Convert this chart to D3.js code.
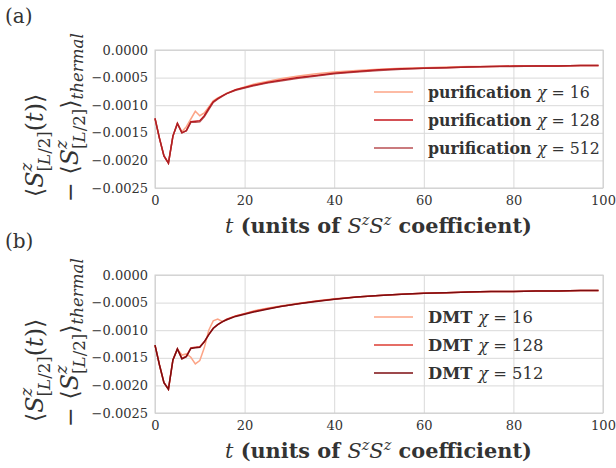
<!DOCTYPE html>
<html>
<head>
<meta charset="utf-8">
<script src="https://cdn.jsdelivr.net/npm/d3@7"></script>
<style>
  body { margin: 0; background: #fff; }
  text { font-family: "DejaVu Serif", serif; fill: #333; white-space: pre; }
</style>
</head>
<body>
<div id="chart-area"></div>
<script>
// time grid shared by all curves
const tGrid = [0, 1, 2, 3, 4, 5, 6, 7, 8, 9, 10, 11, 12, 13, 14, 15, 16,
    18, 20, 22, 25, 28, 32, 36, 40,
    45, 50, 55, 60, 65, 70, 75, 80, 85, 90, 95, 99];

// panel (a): purification
const purif16 = [-0.00124, -0.00160, -0.00192, -0.00205, -0.00156, -0.00133, -0.00148, -0.00139, -0.00125, -0.00111, -0.00119, -0.00114, -0.00103, -0.00092, -0.00087, -0.00083, -0.00078,
    -0.00072, -0.00067, -0.00062, -0.00057, -0.00052, -0.00047, -0.00043, -0.00040,
    -0.00037, -0.00035, -0.00033, -0.00032, -0.00031, -0.00030, -0.00030, -0.00029, -0.00029, -0.00029, -0.00028,
    -0.00028];
const purif128 = [-0.00124, -0.00160, -0.00192, -0.00205, -0.00156, -0.00133, -0.00150, -0.00146, -0.00130, -0.00129, -0.00128, -0.00119, -0.00106, -0.00094, -0.00088, -0.00083, -0.00079,
    -0.00072, -0.00068, -0.00064, -0.00059, -0.00055, -0.00050, -0.00046, -0.00042,
    -0.00039, -0.00036, -0.00034, -0.00033, -0.00032, -0.00031, -0.00030, -0.00029, -0.00029, -0.00029, -0.00028,
    -0.00028];
const purif512 = [-0.00124, -0.00160, -0.00192, -0.00205, -0.00156, -0.00133, -0.00150, -0.00146, -0.00131, -0.00131, -0.00130, -0.00121, -0.00108, -0.00095, -0.00089, -0.00084, -0.00079,
    -0.00073, -0.00069, -0.00065, -0.00060, -0.00056, -0.00051, -0.00047, -0.00043,
    -0.00040, -0.00037, -0.00035, -0.00033, -0.00032, -0.00031, -0.00030, -0.00030, -0.00029, -0.00029, -0.00028,
    -0.00028];

// panel (b): DMT
const dmt16 = [-0.00127, -0.00163, -0.00195, -0.00207, -0.00154, -0.00134, -0.00145, -0.00143, -0.00149, -0.00161, -0.00155, -0.00132, -0.00100, -0.00083, -0.00080, -0.00084, -0.00081,
    -0.00074, -0.00070, -0.00065, -0.00060, -0.00056, -0.00051, -0.00047, -0.00043,
    -0.00040, -0.00037, -0.00035, -0.00033, -0.00032, -0.00031, -0.00030, -0.00030, -0.00029, -0.00029, -0.00028,
    -0.00028];
const dmt128 = [-0.00127, -0.00163, -0.00195, -0.00207, -0.00154, -0.00134, -0.00151, -0.00147, -0.00132, -0.00131, -0.00130, -0.00121, -0.00108, -0.00096, -0.00090, -0.00085, -0.00080,
    -0.00074, -0.00070, -0.00066, -0.00061, -0.00057, -0.00052, -0.00047, -0.00044,
    -0.00040, -0.00037, -0.00035, -0.00033, -0.00032, -0.00031, -0.00030, -0.00030, -0.00029, -0.00029, -0.00028,
    -0.00028];
const dmt512 = [-0.00127, -0.00163, -0.00195, -0.00207, -0.00154, -0.00134, -0.00152, -0.00148, -0.00133, -0.00132, -0.00131, -0.00121, -0.00108, -0.00097, -0.00090, -0.00085, -0.00081,
    -0.00075, -0.00071, -0.00067, -0.00062, -0.00057, -0.00052, -0.00048, -0.00044,
    -0.00040, -0.00037, -0.00035, -0.00033, -0.00032, -0.00031, -0.00030, -0.00030, -0.00029, -0.00029, -0.00028,
    -0.00028];

const chiValues = ["16", "128", "512"];
const xTicks = [0, 20, 40, 60, 80, 100];
const yTicks = [0, -0.0005, -0.0010, -0.0015, -0.0020, -0.0025];

const panels = [
    { tag: "(a)", method: "purification", series: [purif16, purif128, purif512],
      colors: ["#fca486", "#c4161c", "#a82428"], opac: [1, 1, 0.8], top: 50, legW: 162 },
    { tag: "(b)", method: "DMT", series: [dmt16, dmt128, dmt512],
      colors: ["#fca486", "#dc3c33", "#7d0c10"], opac: [1, 1, 1], top: 275, legW: 105 }
];

const width = 616, height = 468;
const left = 155, right = 603, plotH = 138;
const serif = "DejaVu Serif";

const svg = d3.select("#chart-area")
    .append("svg")
    .attr("width", width)
    .attr("height", height);

const x = d3.scaleLinear().domain([0, 100]).range([left, right]);

// lays out a run of math-ish pieces one after the other, measuring each
function mathRun(g, x0, y0, parts, base) {
    let cx = x0, held = 0;
    parts.forEach(p => {
        const size = base * (p.scale || 1);
        const t = g.append("text")
            .attr("x", cx)
            .attr("y", y0 + (p.dy || 0) * base)
            .attr("font-size", size)
            .attr("font-weight", p.b ? "bold" : "normal");
        const segs = Array.isArray(p.s) ? p.s : [[p.s, p.it]];
        segs.forEach(s => t.append("tspan").attr("font-style", s[1] ? "italic" : "normal").text(s[0]));
        const w = t.node().getComputedTextLength();
        if (p.hold) { held = w; }
        else { cx += Math.max(w, held); held = 0; }
    });
    return cx - x0;
}

// font size that makes a run take a given width
function fitSize(g, parts, target) {
    const tmp = g.append("g");
    const w = mathRun(tmp, 0, 0, parts, 20);
    tmp.remove();
    return 20 * target / w;
}

panels.forEach(p => {
    const y = d3.scaleLinear().domain([-0.0025, 0]).range([p.top + plotH, p.top]);
    const g = svg.append("g");

    // grid
    g.append("g")
        .attr("transform", `translate(0,${p.top + plotH})`)
        .call(d3.axisBottom(x).tickValues(xTicks).tickSize(-plotH).tickPadding(8).tickFormat(d3.format("d")))
        .call(a => a.select(".domain").remove())
        .call(a => a.selectAll("line").attr("stroke", "#d9d9d9"))
        .call(a => a.selectAll("text").attr("font-size", 13).attr("font-family", serif).attr("fill", "#333"));

    g.append("g")
        .attr("transform", `translate(${left},0)`)
        .call(d3.axisLeft(y).tickValues(yTicks).tickSize(-(right - left)).tickPadding(7).tickFormat(d3.format(".4f")))
        .call(a => a.select(".domain").remove())
        .call(a => a.selectAll("line").attr("stroke", "#d9d9d9"))
        .call(a => a.selectAll("text").attr("font-size", 13).attr("font-family", serif).attr("fill", "#333"));

    g.append("rect")
        .attr("x", left).attr("y", p.top)
        .attr("width", right - left).attr("height", plotH)
        .attr("fill", "none").attr("stroke", "#cfcfcf");

    const line = d3.line()
        .x((d, i) => x(tGrid[i]))
        .y(d => y(d));

    p.series.forEach((s, i) => {
        g.append("path")
            .datum(s)
            .attr("d", line)
            .attr("fill", "none")
            .attr("stroke", p.colors[i])
            .attr("stroke-opacity", p.opac[i])
            .attr("stroke-width", 1.5);
    });

    // legend, sized from the χ = 16 entry
    const legParts = c => [
        { s: p.method + " ", b: true },
        { s: "χ", it: true },
        { s: " = " + c }
    ];
    const legSize = fitSize(g, legParts("16"), p.legW);
    chiValues.forEach((c, i) => {
        const ly = p.top + 42 + i * 28;
        g.append("line")
            .attr("x1", 374).attr("x2", 413)
            .attr("y1", ly).attr("y2", ly)
            .attr("stroke", p.colors[i])
            .attr("stroke-opacity", p.opac[i])
            .attr("stroke-width", 1.5);
        mathRun(g, 428, ly + 6, legParts(c), legSize);
    });

    // panel tag
    svg.append("text").attr("x", 5).attr("y", p.top - 27).attr("font-size", 20).text(p.tag);

    // x label
    const xParts = [
        { s: "t", it: true },
        { s: " (units of ", b: true },
        { s: "S", it: true },
        { s: "z", it: true, scale: 0.7, dy: -0.4 },
        { s: "S", it: true },
        { s: "z", it: true, scale: 0.7, dy: -0.4 },
        { s: " coefficient)", b: true }
    ];
    const xl = svg.append("g");
    mathRun(xl, 225, p.top + plotH + 45, xParts, fitSize(xl, xParts, 307));

    // y label, two rotated lines at one size
    const yl = svg.append("g").attr("transform", "rotate(-90)");
    const bot = p.top + plotH + 9;
    const line1 = [
        { s: "⟨" },
        { s: "S", it: true },
        { s: "z", it: true, scale: 0.7, dy: -0.45, hold: true },
        { s: [["[", false], ["L", true], ["/2]", false]], scale: 0.7, dy: 0.3 },
        { s: [["(", false], ["t", true], [")", false]] },
        { s: "⟩" }
    ];
    const line2 = [
        { s: "− " },
        { s: "⟨" },
        { s: "S", it: true },
        { s: "z", it: true, scale: 0.7, dy: -0.45, hold: true },
        { s: [["[", false], ["L", true], ["/2]", false]], scale: 0.7, dy: 0.3 },
        { s: "⟩" },
        { s: "thermal", it: true, scale: 0.7, dy: 0.2 }
    ];
    const ySize = fitSize(yl, line2, 169);
    mathRun(yl, -bot, 43, line1, ySize);
    mathRun(yl, -bot - 5, 78, line2, ySize);
});
</script>
</body>
</html>
